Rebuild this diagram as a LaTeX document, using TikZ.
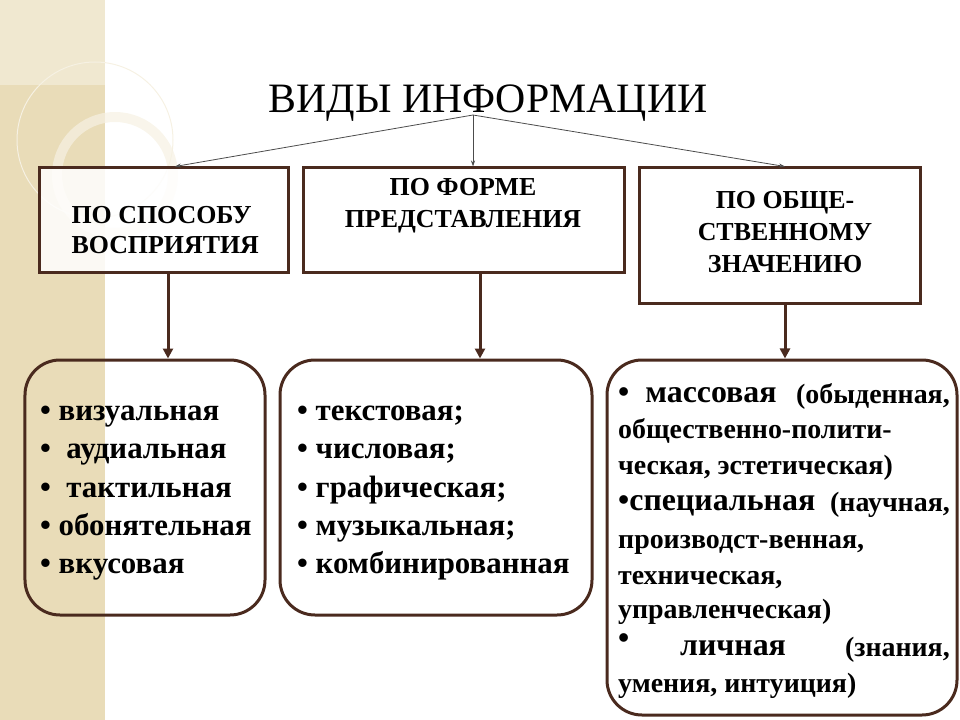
\documentclass[tikz,border=0pt]{standalone}
\usepackage{fontspec}
\setmainfont{Liberation Serif}
\usetikzlibrary{arrows.meta}
\definecolor{brn}{HTML}{4A2A1E}
\definecolor{beige}{HTML}{E9DCB8}
\begin{document}
\begin{tikzpicture}[x=1bp,y=-1bp,
  hbox/.style={draw=brn,line width=3bp,fill=white,fill opacity=0.85,text opacity=1},
  rbox/.style={draw=brn,line width=3bp,rounded corners=35bp},
  hd/.style={font=\bfseries\fontsize{26}{32}\selectfont,align=center},
  it/.style={font=\bfseries\fontsize{31}{26}\selectfont,anchor=base west,inner sep=0},
  rt/.style={font=\bfseries\fontsize{28}{24}\selectfont,anchor=base west,inner sep=0},
  big/.style={font=\bfseries\fontsize{32}{26}\selectfont,anchor=base west,inner sep=0},
  thin/.style={draw=black!70,line width=0.8bp,-{Stealth[length=6bp,width=4bp]}},
  thick/.style={draw=brn,line width=3bp,-{Triangle[length=10bp,width=10bp]}}]
\useasboundingbox (0,0) rectangle (960,720);
\fill[beige] (0,0) rectangle (105,720);
\fill[white,opacity=0.35] (0,0) rectangle (105,85);
\draw[white!60!beige,line width=1bp] (95,140) circle (78);
\draw[white!60!beige,line width=10bp,opacity=0.7] (115,175) circle (58);

\node[font=\fontsize{42}{46}\selectfont] (t) at (488,103) {ВИДЫ ИНФОРМАЦИИ};
\coordinate (o) at (473,115);

\node[hbox,minimum width=248bp,minimum height=104bp] (b1) at (164,220) {};
\node[hbox,minimum width=321bp,minimum height=104bp] (b2) at (463.5,220) {};
\node[hbox,minimum width=281bp,minimum height=135bp] (b3) at (779.5,235.5) {};
\node[hd,align=left,anchor=west,font=\bfseries\fontsize{26}{30}\selectfont] at (68,230) {ПО СПОСОБУ\\ВОСПРИЯТИЯ};
\node[hd] at (463,206) {ПО ФОРМЕ\\ПРЕДСТАВЛЕНИЯ};
\node[hd] at (785,232) {ПО ОБЩЕ-\\СТВЕННОМУ\\ЗНАЧЕНИЮ};

\draw[thin] (o) -- (b1.north -| 175,0);
\draw[thin] (o) -- (b2.north -| 473,0);
\draw[thin] (o) -- (b3.north -| 785,0);

\node[rbox,minimum width=240bp,minimum height=255bp] (c1) at (145,487.5) {};
\node[rbox,minimum width=312bp,minimum height=255bp] (c2) at (436,487.5) {};
\node[rbox,minimum width=350bp,minimum height=355bp] (c3) at (782,537.5) {};

\draw[thick] (b1.south -| 168,0) -- (c1.north -| 168,0);
\draw[thick] (b2.south -| 480,0) -- (c2.north -| 480,0);
\draw[thick] (b3.south -| 785,0) -- (c3.north -| 785,0);

\node[it] at (40,420) {• визуальная};
\node[it] at (40,458) {•\ \ аудиальная};
\node[it] at (40,497) {•\ \ тактильная};
\node[it] at (40,535) {• обонятельная};
\node[it] at (40,573) {• вкусовая};

\node[it] at (297,420) {• текстовая;};
\node[it] at (297,458) {• числовая;};
\node[it] at (297,497) {• графическая;};
\node[it] at (297,535) {• музыкальная;};
\node[it] at (297,573) {• комбинированная};

\node[big] at (618,402) {•\ \ массовая};
\node[rt,anchor=base east] at (950,403) {(обыденная,};
\node[rt] at (618,438) {общественно-полити-};
\node[rt] at (618,474) {ческая, эстетическая)};
\node[big] at (618,510) {•специальная};
\node[rt,anchor=base east] at (950,511) {(научная,};
\node[rt] at (618,548) {производст-венная,};
\node[rt] at (618,584) {техническая,};
\node[rt] at (618,618) {управленческая)};
\node[big] at (618,648) {•};
\node[big] at (680,655) {личная};
\node[rt,anchor=base east] at (950,656) {(знания,};
\node[rt] at (618,692) {умения, интуиция)};
\end{tikzpicture}
\end{document}
